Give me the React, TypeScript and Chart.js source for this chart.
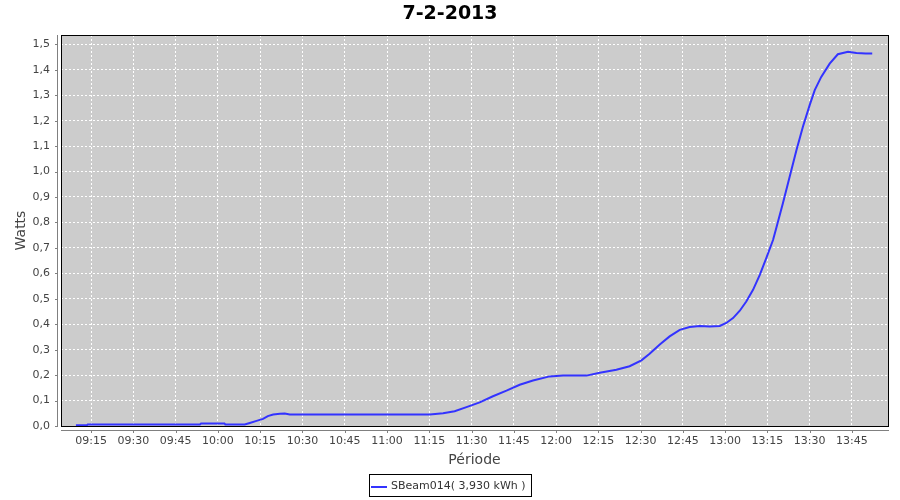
import React, { useEffect, useRef } from "react";
import { Chart, registerables } from "chart.js";

Chart.register(...registerables);

const TITLE = "7-2-2013";
const Y_TITLE = "Watts";
const X_TITLE = "Période";
const SERIES_LABEL = "SBeam014( 3,930 kWh )";

// minutes since midnight
const times = [
  549.6, 553.5, 553.8, 593.6, 594.0, 602.3, 602.6, 609.5, 611.3, 613.7, 616.0,
  617.7, 619.6, 622.0, 623.7, 625.5, 675.2, 679.9, 684.0, 688.2, 692.9, 697.6,
  702.4, 707.1, 711.8, 717.7, 722.5, 730.8, 735.5, 741.4, 746.1, 750.3, 753.2,
  756.8, 760.3, 763.9, 767.4, 771.0, 774.5, 778.1, 780.4, 782.8, 785.2, 787.5,
  789.9, 792.3, 794.6, 797.0, 798.2, 800.5, 802.9, 805.3, 807.6, 810.0, 811.8,
  814.1, 817.1, 820.0, 823.6, 826.6, 829.9, 832.2,
];

const watts = [
  0.003, 0.003, 0.006, 0.006, 0.01, 0.01, 0.006, 0.006, 0.012, 0.02, 0.028,
  0.039, 0.045, 0.048, 0.049, 0.045, 0.045, 0.05, 0.058, 0.074, 0.093, 0.117,
  0.139, 0.162, 0.179, 0.195, 0.198, 0.198, 0.209, 0.221, 0.235, 0.258, 0.284,
  0.32, 0.352, 0.378, 0.389, 0.393, 0.391, 0.393, 0.405, 0.424, 0.453, 0.489,
  0.535, 0.594, 0.66, 0.731, 0.78, 0.875, 0.98, 1.084, 1.176, 1.261, 1.32,
  1.372, 1.424, 1.461, 1.471, 1.466, 1.464, 1.464,
];

const xTickLabels = [
  "09:15", "09:30", "09:45", "10:00", "10:15", "10:30", "10:45", "11:00",
  "11:15", "11:30", "11:45", "12:00", "12:15", "12:30", "12:45", "13:00",
  "13:15", "13:30", "13:45",
];

const yTickValues = [
  0.0, 0.1, 0.2, 0.3, 0.4, 0.5, 0.6, 0.7, 0.8, 0.9, 1.0, 1.1, 1.2, 1.3, 1.4, 1.5,
];

const X_MIN = 544.3;
const X_MAX = 837.8;
const Y_MIN = 0;
const Y_MAX = 1.5366;

const FONT = "'DejaVu Sans', sans-serif";
const LINE_COLOR = "#3333ff";

const toMin = (s: string) => {
  const [h, m] = s.split(":").map(Number);
  return h * 60 + m;
};
const fmtTime = (v: number) => {
  const h = Math.floor(v / 60);
  const m = Math.round(v - h * 60);
  return `${String(h).padStart(2, "0")}:${String(m).padStart(2, "0")}`;
};

const decor = {
  id: "decor",
  beforeDraw(chart: any) {
    const { ctx, chartArea: a } = chart;
    ctx.save();
    ctx.fillStyle = "#ffffff";
    ctx.fillRect(0, 0, chart.width, chart.height);
    ctx.fillStyle = "#cccccc";
    ctx.fillRect(a.left, a.top, a.right - a.left, a.bottom - a.top);
    ctx.restore();
  },
  afterDraw(chart: any) {
    const { ctx, chartArea: a, scales } = chart;
    const L = Math.round(a.left);
    const R = Math.round(a.right);
    const T = Math.round(a.top);
    const B = Math.round(a.bottom);
    ctx.save();
    // plot outline
    ctx.strokeStyle = "#000000";
    ctx.lineWidth = 1;
    ctx.setLineDash([]);
    ctx.strokeRect(L + 0.5, T + 0.5, R - L, B - T);

    // offset axis lines
    ctx.strokeStyle = "#808080";
    const ax = L - 4 + 0.5;
    ctx.beginPath();
    ctx.moveTo(ax, T);
    ctx.lineTo(ax, B + 1);
    ctx.stroke();
    const ay = B + 4 + 0.5;
    ctx.beginPath();
    ctx.moveTo(L, ay);
    ctx.lineTo(R + 1, ay);
    ctx.stroke();

    // tick marks
    ctx.beginPath();
    for (const v of yTickValues) {
      const py = Math.round(scales.y.getPixelForValue(v)) + 0.5;
      ctx.moveTo(ax - 2.5, py);
      ctx.lineTo(ax, py);
    }
    for (const s of xTickLabels) {
      const px = Math.round(scales.x.getPixelForValue(toMin(s))) + 0.5;
      ctx.moveTo(px, ay);
      ctx.lineTo(px, ay + 2.5);
    }
    ctx.stroke();

    // title
    ctx.fillStyle = "#000000";
    ctx.font = `bold 19px ${FONT}`;
    ctx.textAlign = "center";
    ctx.textBaseline = "alphabetic";
    ctx.fillText(TITLE, 450, 19);

    // axis titles
    ctx.fillStyle = "#444444";
    ctx.font = `14px ${FONT}`;
    ctx.fillText(X_TITLE, (a.left + a.right) / 2, 464);
    ctx.save();
    ctx.translate(25, (a.top + a.bottom) / 2);
    ctx.rotate(-Math.PI / 2);
    ctx.fillText(Y_TITLE, 0, 0);
    ctx.restore();

    // legend
    ctx.font = `11px ${FONT}`;
    const tw = ctx.measureText(SERIES_LABEL).width;
    const bw = Math.round(2 + 16 + 4 + tw + 5);
    const bx = Math.round(450 - bw / 2);
    const by = 474;
    const bh = 22;
    ctx.strokeStyle = "#000000";
    ctx.lineWidth = 1;
    ctx.strokeRect(bx + 0.5, by + 0.5, bw, bh);
    ctx.strokeStyle = LINE_COLOR;
    ctx.lineWidth = 2;
    ctx.beginPath();
    ctx.moveTo(bx + 2, by + 13);
    ctx.lineTo(bx + 18, by + 13);
    ctx.stroke();
    ctx.fillStyle = "#333333";
    ctx.textAlign = "left";
    ctx.textBaseline = "middle";
    ctx.fillText(SERIES_LABEL, bx + 22, by + 12.5);
    ctx.restore();
  },
};

export default function App() {
  const ref = useRef<HTMLCanvasElement | null>(null);

  useEffect(() => {
    if (!ref.current) return;
    Chart.defaults.font.family = FONT;
    const chart = new Chart(ref.current, {
      type: "line",
      data: {
        datasets: [
          {
            label: SERIES_LABEL,
            data: times.map((t, i) => ({ x: t, y: watts[i] })),
            borderColor: LINE_COLOR,
            backgroundColor: LINE_COLOR,
            borderWidth: 2,
            pointRadius: 0,
            tension: 0,
            fill: false,
          },
        ],
      },
      options: {
        responsive: false,
        animation: false,
        layout: { padding: { top: 35, right: 12, left: 0, bottom: 0 } },
        plugins: {
          legend: { display: false },
          title: { display: false },
          tooltip: { enabled: false },
        },
        scales: {
          x: {
            type: "linear",
            min: X_MIN,
            max: X_MAX,
            afterFit: (s: any) => {
              s.height = 74;
            },
            afterBuildTicks: (s: any) => {
              s.ticks = xTickLabels.map((l) => ({ value: toMin(l) }));
            },
            ticks: {
              callback: (v: any) => fmtTime(Number(v)),
              font: { family: FONT, size: 11 },
              color: "#444444",
              padding: 9,
              maxRotation: 0,
              autoSkip: false,
            },
            grid: { color: "#ffffff", lineWidth: 1, drawTicks: false },
            border: { display: false, dash: [2, 2] },
          },
          y: {
            type: "linear",
            min: Y_MIN,
            max: Y_MAX,
            afterFit: (s: any) => {
              s.width = 61;
            },
            afterBuildTicks: (s: any) => {
              s.ticks = yTickValues.map((v) => ({ value: v }));
            },
            ticks: {
              callback: (v: any) => Number(v).toFixed(1).replace(".", ","),
              font: { family: FONT, size: 11 },
              color: "#444444",
              padding: 11,
              autoSkip: false,
            },
            grid: { color: "#ffffff", lineWidth: 1, drawTicks: false },
            border: { display: false, dash: [2, 2] },
          },
        },
      },
      plugins: [decor],
    });
    return () => chart.destroy();
  }, []);

  return (
    <div style={{ position: "fixed", left: 0, top: 0, width: 900, height: 500, background: "#fff" }}>
      <canvas ref={ref} width={900} height={500} style={{ display: "block" }} />
    </div>
  );
}
